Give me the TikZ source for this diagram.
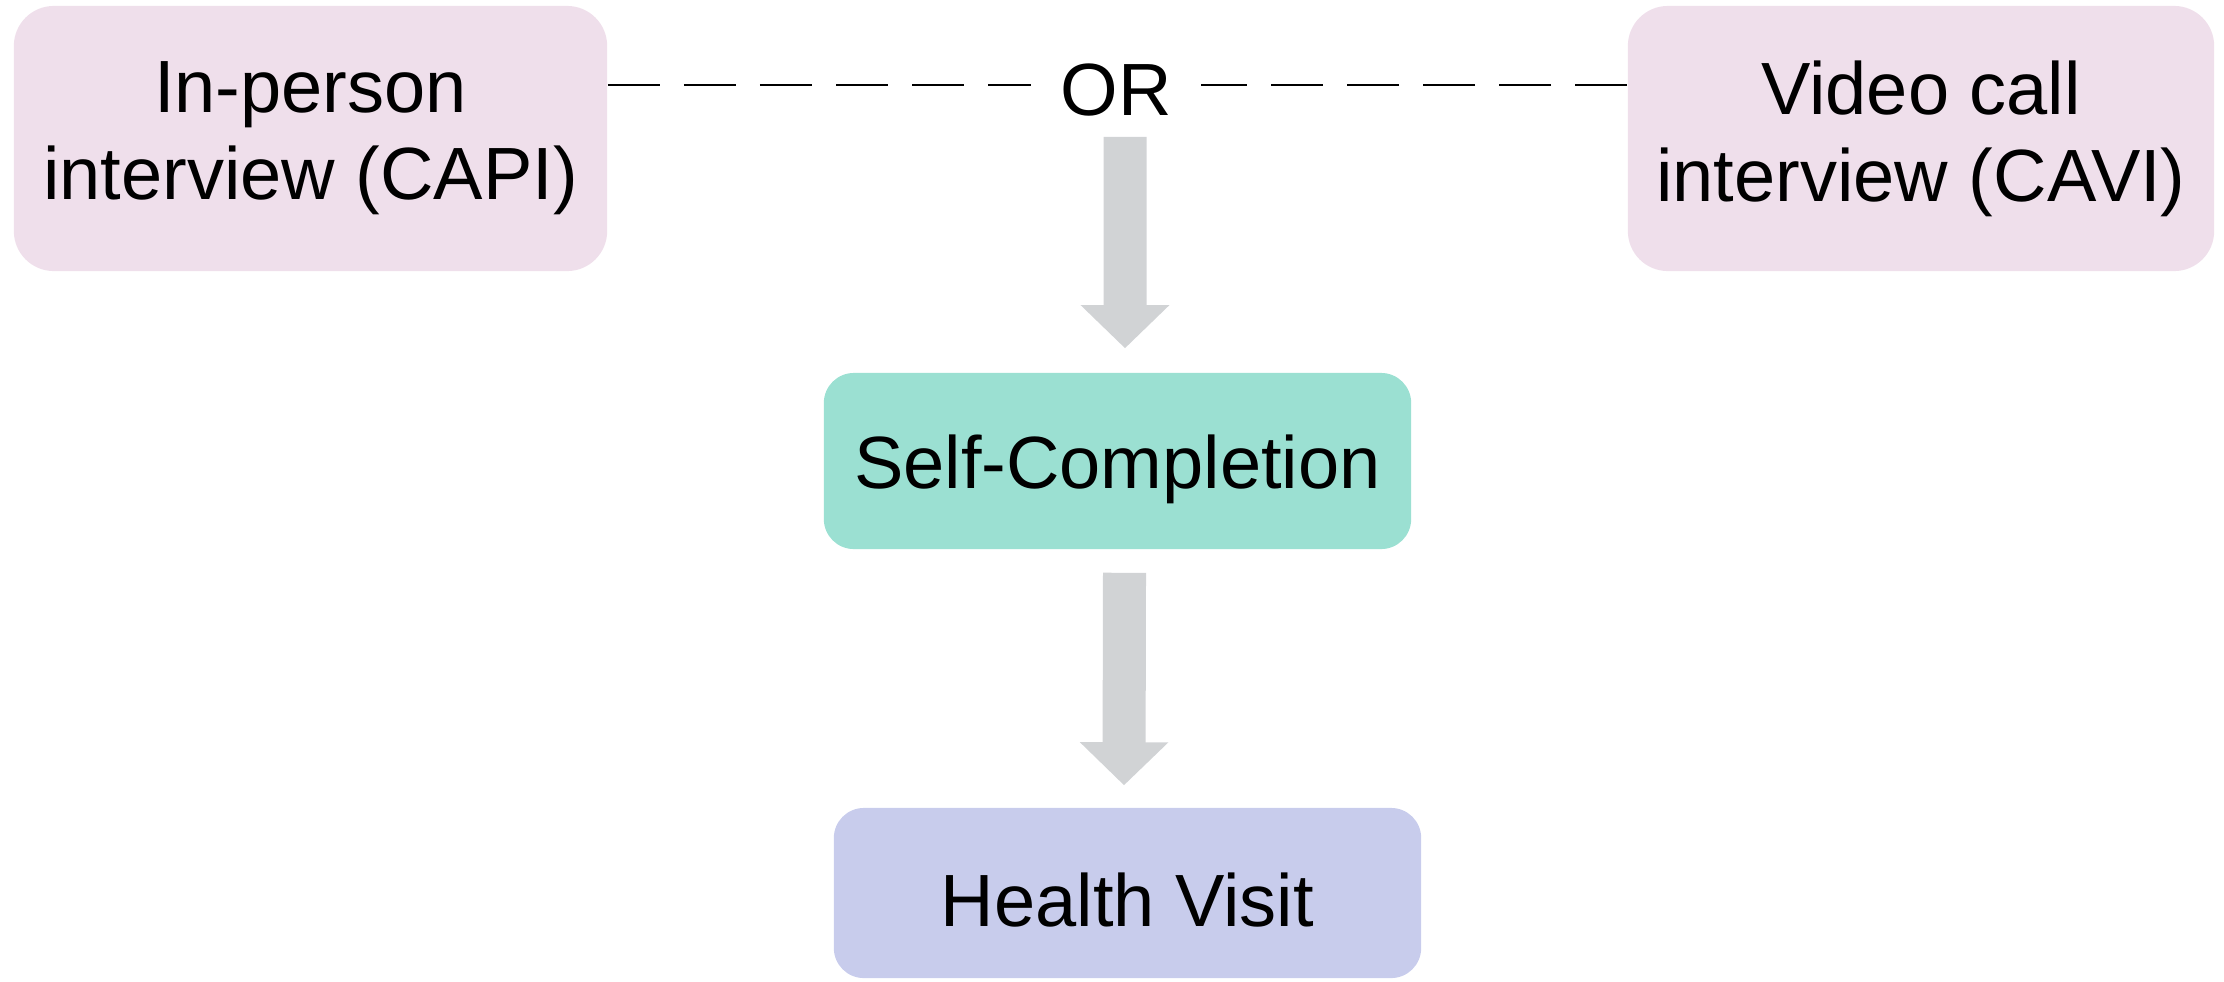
\documentclass[tikz,border=0pt]{standalone}
\usepackage{fontspec}
\setmainfont{Liberation Sans}
\usetikzlibrary{arrows.meta}
\definecolor{pinkbox}{RGB}{239,223,235}
\definecolor{tealbox}{RGB}{155,224,210}
\definecolor{lavbox}{RGB}{200,204,236}
\definecolor{arrowgray}{RGB}{209,211,213}
\begin{document}
\begin{tikzpicture}[x=0.01cm,y=-0.01cm,
  txt/.style={font=\fontsize{21.05pt}{24.75pt}\selectfont},
  box/.style={txt, inner sep=0pt, align=center},
  pbox/.style={box, fill=pinkbox, rounded corners=0.4cm, minimum height=2.65cm},
  mbox/.style={box, rounded corners=0.3cm, minimum width=5.87cm, text depth=0pt},
  dashline/.style={line width=0.6pt, dash pattern=on 0.52cm off 0.24cm},
  bigarrow/.style={draw=arrowgray, line width=0.43cm, -{Triangle[width=0.86cm,length=0.43cm]}}]
\useasboundingbox (0,0) rectangle (2224,981);
\node[pbox, minimum width=5.93cm] (capi) at (310.5,138.5) {In-person\\interview (CAPI)};
\node[pbox, minimum width=5.86cm] (cavi) at (1921,138.5) {Video call\\interview (CAVI)};
\node[txt, inner ysep=0pt, inner xsep=0.285cm] (or) at (1116,90) {OR};
\node[mbox, fill=tealbox, minimum height=1.76cm, text height=0.54cm] (self) at (1117.5,461) {Self-Completion};
\node[mbox, fill=lavbox, minimum height=1.70cm, text height=0.66cm] (health) at (1127.5,893) {Health Visit};
\draw[dashline] (capi.east |- 0,85) -- (or.west |- 0,85);
\draw[dashline] (cavi.west |- 0,85) -- (or.east |- 0,85);
\draw[bigarrow] ([xshift=0.09cm,yshift=-0.2cm]or.south) -- ([xshift=0.075cm,yshift=0.24cm]self.north);
\draw[bigarrow] ([xshift=0.07cm,yshift=-0.23cm]self.south) -- ([xshift=-0.035cm,yshift=0.22cm]health.north);
\end{tikzpicture}
\end{document}
